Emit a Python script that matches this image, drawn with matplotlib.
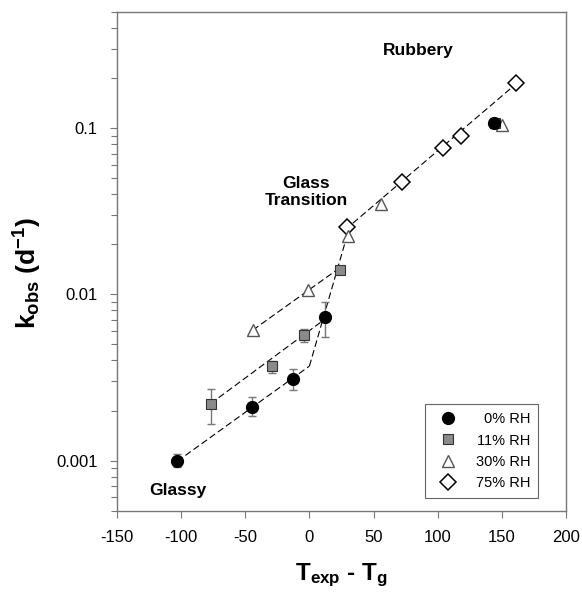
import matplotlib
matplotlib.use("Agg")
import matplotlib.pyplot as plt
from matplotlib.ticker import LogLocator, NullFormatter, FixedLocator, FixedFormatter

plt.rcParams['font.family'] = ['Liberation Sans', 'DejaVu Sans']
plt.rcParams['mathtext.fontset'] = 'custom'
plt.rcParams['mathtext.rm'] = 'Liberation Sans'
plt.rcParams['mathtext.bf'] = 'Liberation Sans:bold'
plt.rcParams['mathtext.it'] = 'Liberation Sans:italic'

# Data (T_exp - T_g, k_obs)
x0 = [-103, -45, -13, 12, 144]
y0 = [0.00099, 0.0021, 0.0031, 0.0073, 0.108]
e0_lo = [0.00091, 0.00185, 0.00265, 0.0055, 0.108]
e0_hi = [0.0011, 0.0024, 0.00356, 0.009, 0.108]

x11 = [-77, -29, -4, 24, 145]
y11 = [0.0022, 0.0037, 0.0057, 0.014, 0.107]
e11_lo = [0.00167, 0.00335, 0.0052, 0.0133, 0.107]
e11_hi = [0.0027, 0.00396, 0.0062, 0.0147, 0.107]

x30 = [-44, -1, 30, 56, 150]
y30 = [0.0061, 0.0106, 0.0225, 0.035, 0.104]

x75 = [29, 72, 104, 118, 161]
y75 = [0.0254, 0.0475, 0.0757, 0.089, 0.1855]

# Fitted (dashed) line segments
fit_glassy0_x = [-103, 0]
fit_glassy0_y = [0.00099, 0.0037]
fit_glassy11_x = [-77, 10]
fit_glassy11_y = [0.0022, 0.0069]
fit_glassy30_x = [-44, 24]
fit_glassy30_y = [0.0061, 0.0145]
fit_trans_x = [0, 30]
fit_trans_y = [0.0037, 0.0235]
fit_rubbery_x = [28, 162]
fit_rubbery_y = [0.0245, 0.187]

labels = ['0% RH', '11% RH', '30% RH', '75% RH']
xticks = [-150, -100, -50, 0, 50, 100, 150, 200]
yticks = [0.001, 0.01, 0.1]
ytick_labels = ['0.001', '0.01', '0.1']

fig = plt.figure(figsize=(5.82, 5.94), dpi=100)
ax = fig.add_axes([0.201, 0.1404, 0.7715, 0.8396])

dash = dict(color='black', lw=0.8, ls=(0, (6, 3)), zorder=1)
for fx, fy in [(fit_glassy0_x, fit_glassy0_y), (fit_glassy11_x, fit_glassy11_y),
               (fit_glassy30_x, fit_glassy30_y), (fit_trans_x, fit_trans_y),
               (fit_rubbery_x, fit_rubbery_y)]:
    ax.plot(fx, fy, **dash)

def err(y, lo, hi):
    return [[a - b for a, b in zip(y, lo)], [b - a for a, b in zip(y, hi)]]

ax.errorbar(x11, y11, yerr=err(y11, e11_lo, e11_hi), fmt='none', ecolor='#777777',
            elinewidth=1.0, capsize=3, capthick=1.0, zorder=2)
ax.errorbar(x0, y0, yerr=err(y0, e0_lo, e0_hi), fmt='none', ecolor='#777777',
            elinewidth=1.0, capsize=3, capthick=1.0, zorder=2)

ax.plot(x75, y75, ls='none', marker='D', ms=8, mfc='white', mec='black', mew=1.1,
        label=labels[3], zorder=3)
ax.plot(x30, y30, ls='none', marker='^', ms=8.5, mfc='white', mec='#555555', mew=1.0,
        label=labels[2], zorder=4)
ax.plot(x11, y11, ls='none', marker='s', ms=6.5, mfc='#8a8a8a', mec='#333333', mew=0.8,
        label=labels[1], zorder=5)
ax.plot(x0, y0, ls='none', marker='o', ms=8.5, mfc='black', mec='black',
        label=labels[0], zorder=6)

ax.set_yscale('log')
ax.set_xlim(-150, 200)
ax.set_ylim(0.0005, 0.5)

ax.xaxis.set_major_locator(FixedLocator(xticks))
ax.set_xticklabels([str(t) for t in xticks])
ax.yaxis.set_major_locator(FixedLocator(yticks))
ax.yaxis.set_major_formatter(FixedFormatter(ytick_labels))
ax.yaxis.set_minor_locator(LogLocator(base=10, subs=range(2, 10)))
ax.yaxis.set_minor_formatter(NullFormatter())

ax.tick_params(axis='both', which='major', direction='out', length=5, width=0.8,
               color='#777777', labelsize=12, pad=9)
ax.tick_params(axis='y', which='minor', direction='out', length=4, width=0.8, color='#777777')
ax.tick_params(top=False, right=False)
for s in ax.spines.values():
    s.set_color('#777777')
    s.set_linewidth(1.0)

ax.set_xlabel(r'$\mathbf{T_{exp}}$ - $\mathbf{T_g}$', fontsize=17.5, fontweight='bold', labelpad=12)
ax.set_ylabel(r'$\mathbf{k_{obs}}$ (d$^{\mathbf{-1}}$)', fontsize=19, fontweight='bold', labelpad=9)
ax.yaxis.label.set_y(0.477)

ax.text(0.67, 0.922, 'Rubbery', transform=ax.transAxes, fontsize=12.5, fontweight='bold',
        ha='center', va='center')
ax.text(0.421, 0.639, 'Glass\nTransition', transform=ax.transAxes, fontsize=12.5,
        fontweight='bold', ha='center', va='center', linespacing=1.2)
ax.text(0.136, 0.041, 'Glassy', transform=ax.transAxes, fontsize=12.5, fontweight='bold',
        ha='center', va='center')

h, l = ax.get_legend_handles_labels()
order = [3, 2, 1, 0]
leg = ax.legend([h[i] for i in order], [l[i] for i in order], loc='lower right',
                bbox_to_anchor=(0.938, 0.025), borderaxespad=0, fontsize=10.5,
                frameon=True, fancybox=False, framealpha=1,
                edgecolor='#666666', borderpad=0.55, labelspacing=0.5, handletextpad=0.9)
leg.get_frame().set_linewidth(0.8)

fig.canvas.draw()
widths = [t.get_window_extent().width for t in leg.get_texts()]
mw = max(widths)
for t, w in zip(leg.get_texts(), widths):
    t.set_ha('right')
    t.set_position((mw - w, 0))

fig.savefig('out.png', dpi=100)
